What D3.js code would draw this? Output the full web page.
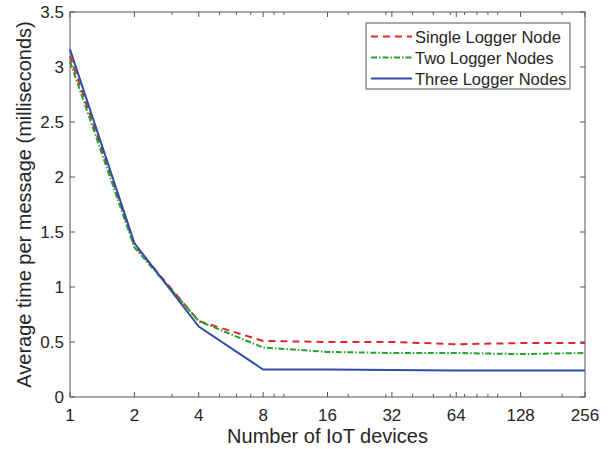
<!DOCTYPE html>
<html><head><meta charset="utf-8">
<script src="https://cdn.jsdelivr.net/npm/d3@7"></script>
<style>body{margin:0;background:#fff}svg{display:block}text{font-family:"Liberation Sans",Arial,sans-serif;fill:#262626}</style>
</head><body>
<svg id="c" width="612" height="449"></svg>
<script>
const devices = [1, 2, 4, 8, 16, 32, 64, 128, 256];
const single = [3.10, 1.38, 0.69, 0.51, 0.50, 0.50, 0.48, 0.49, 0.49];
const two    = [3.05, 1.36, 0.69, 0.45, 0.41, 0.40, 0.40, 0.39, 0.40];
const three  = [3.16, 1.40, 0.64, 0.25, 0.25, 0.245, 0.24, 0.24, 0.24];
const seriesNames = ["Single Logger Node", "Two Logger Nodes", "Three Logger Nodes"];
const xTicks = [1, 2, 4, 8, 16, 32, 64, 128, 256];
const xMinor = [3, 5, 6, 7, 9, 10, 20, 30, 40, 50, 60, 70, 80, 90, 100, 200];
const yTicks = [0, 0.5, 1, 1.5, 2, 2.5, 3, 3.5];

const svg = d3.select("#c");
const L = 70, R = 585, T = 12, B = 397;
const x = d3.scaleLog().base(2).domain([1, 256]).range([L, R]);
const y = d3.scaleLinear().domain([0, 3.5]).range([B, T]);
const axisColor = "#555";

svg.append("rect").attr("x", L).attr("y", T).attr("width", R - L).attr("height", B - T)
  .attr("fill", "none").attr("stroke", axisColor).attr("stroke-width", 1);

const tl = 5, tm = 3;
xTicks.forEach(v => {
  svg.append("line").attr("x1", x(v)).attr("x2", x(v)).attr("y1", B).attr("y2", B - tl).attr("stroke", axisColor);
  svg.append("line").attr("x1", x(v)).attr("x2", x(v)).attr("y1", T).attr("y2", T + tl).attr("stroke", axisColor);
  svg.append("text").attr("x", x(v)).attr("y", B + 24).attr("text-anchor", "middle").attr("font-size", 17).text(v);
});
xMinor.forEach(v => {
  svg.append("line").attr("x1", x(v)).attr("x2", x(v)).attr("y1", B).attr("y2", B - tm).attr("stroke", axisColor);
  svg.append("line").attr("x1", x(v)).attr("x2", x(v)).attr("y1", T).attr("y2", T + tm).attr("stroke", axisColor);
});
yTicks.forEach(v => {
  svg.append("line").attr("x1", L).attr("x2", L + tl).attr("y1", y(v)).attr("y2", y(v)).attr("stroke", axisColor);
  svg.append("line").attr("x1", R).attr("x2", R - tl).attr("y1", y(v)).attr("y2", y(v)).attr("stroke", axisColor);
  svg.append("text").attr("x", L - 6).attr("y", y(v) + 6).attr("text-anchor", "end").attr("font-size", 17).text(v);
});

svg.append("text").attr("x", (L + R) / 2).attr("y", 443).attr("text-anchor", "middle").attr("font-size", 20).text("Number of IoT devices");
svg.append("text").attr("transform", `translate(31,${(T + B) / 2}) rotate(-90)`).attr("text-anchor", "middle").attr("font-size", 20)
  .text("Average time per message (milliseconds)");

const styles = [
  {data: single, color: "#e0262a", dash: "7,5"},
  {data: two, color: "#22a32a", dash: "6,2,1.5,2"},
  {data: three, color: "#2c4fa3", dash: null}
];
const line = d3.line().x((d, i) => x(devices[i])).y(d => y(d));
styles.forEach(s => {
  const p = svg.append("path").attr("d", line(s.data)).attr("fill", "none").attr("stroke", s.color).attr("stroke-width", 2);
  if (s.dash) p.attr("stroke-dasharray", s.dash);
});

const lg = svg.append("g");
lg.append("rect").attr("x", 366).attr("y", 23).attr("width", 204).attr("height", 66).attr("fill", "#fff").attr("stroke", axisColor);
seriesNames.forEach((n, i) => {
  const yy = 36.5 + i * 21;
  const l = lg.append("line").attr("x1", 371).attr("x2", 412).attr("y1", yy).attr("y2", yy)
    .attr("stroke", styles[i].color).attr("stroke-width", 2);
  if (styles[i].dash) l.attr("stroke-dasharray", styles[i].dash);
  lg.append("text").attr("x", 415).attr("y", yy + 6).attr("font-size", 16.5).text(n);
});
</script>
</body></html>
